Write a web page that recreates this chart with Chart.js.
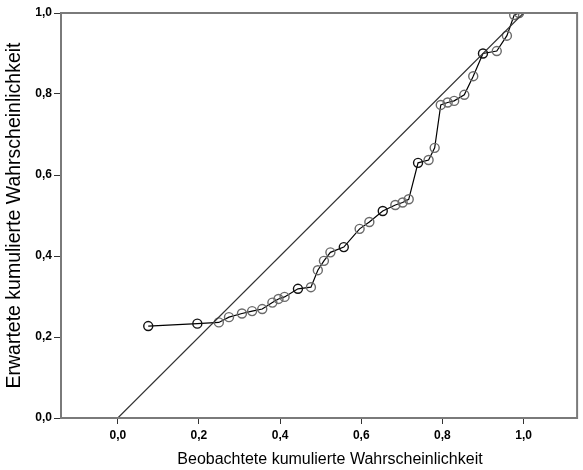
<!DOCTYPE html>
<html>
<head>
<meta charset="utf-8">
<script src="https://cdn.jsdelivr.net/npm/chart.js@4"></script>
<style>
  html, body { margin: 0; padding: 0; background: #fff; }
  #wrap { width: 583px; height: 470px; }
</style>
</head>
<body>
<div id="wrap"><canvas id="pp"></canvas></div>
<script>
// observed vs expected cumulative probabilities
const observed = [0.075, 0.196, 0.249, 0.274, 0.306, 0.331, 0.356, 0.381, 0.396, 0.411,
  0.444, 0.476, 0.493, 0.508, 0.524, 0.557, 0.596, 0.620, 0.653, 0.684,
  0.702, 0.717, 0.740, 0.766, 0.781, 0.796, 0.813, 0.829, 0.854, 0.876,
  0.900, 0.934, 0.959, 0.977, 0.989];
const expected = [0.227, 0.233, 0.236, 0.249, 0.258, 0.264, 0.269, 0.285, 0.294, 0.299,
  0.319, 0.323, 0.365, 0.388, 0.409, 0.422, 0.467, 0.484, 0.511, 0.526,
  0.532, 0.540, 0.630, 0.637, 0.667, 0.773, 0.779, 0.783, 0.798, 0.844,
  0.900, 0.906, 0.944, 0.995, 1.000];
// points drawn twice over (ties), shown darker
const tied = [0, 1, 10, 15, 18, 22, 30];

const xTicks = [0, 0.2, 0.4, 0.6, 0.8, 1.0];
const yTicks = [0, 0.2, 0.4, 0.6, 0.8, 1.0];

const xTitle = "Beobachtete kumulierte Wahrscheinlichkeit";
const yTitle = "Erwartete kumulierte Wahrscheinlichkeit";

const points = observed.map((x, i) => ({ x: x, y: expected[i] }));
const markerColors = observed.map((x, i) => tied.includes(i) ? "#111" : "#6a6a6a");

const fmt = (v) => v.toFixed(1).replace(".", ",");
const fontFamily = "Arial, 'Liberation Sans'";
const tickFont = { family: fontFamily, size: 12, weight: "bold" };
const yTitleFont = { family: fontFamily, size: 19.5, weight: "normal" };

// grey frame round the plot area, x title drawn a bit right of centre
const framePlugin = {
  id: "frame",
  afterDatasetsDraw(chart) {
    const a = chart.chartArea;
    const ctx = chart.ctx;
    ctx.save();
    ctx.strokeStyle = "#7a7a7a";
    ctx.lineWidth = 2;
    ctx.strokeRect(a.left, a.top, a.right - a.left, a.bottom - a.top);
    ctx.restore();
  },
  afterDraw(chart) {
    const ctx = chart.ctx;
    ctx.save();
    ctx.font = "16px " + fontFamily;
    ctx.fillStyle = "#000";
    ctx.textAlign = "center";
    ctx.textBaseline = "middle";
    ctx.fillText(xTitle, 330, 460);
    ctx.restore();
  }
};

const config = {
  type: "scatter",
  data: {
    datasets: [
      {
        label: "diagonal",
        type: "line",
        data: [{ x: 0, y: 0 }, { x: 1, y: 1 }],
        borderColor: "#333",
        borderWidth: 1.2,
        pointRadius: 0,
        fill: false
      },
      {
        label: "pp",
        type: "line",
        data: points,
        borderColor: "#000",
        borderWidth: 1.2,
        pointRadius: 4.5,
        pointBorderWidth: 1.4,
        pointBackgroundColor: "rgba(0,0,0,0)",
        pointBorderColor: markerColors,
        tension: 0,
        fill: false
      }
    ]
  },
  options: {
    responsive: true,
    maintainAspectRatio: false,
    animation: false,
    layout: { padding: { top: 13, right: 5, left: 0, bottom: 0 } },
    plugins: { legend: { display: false }, tooltip: { enabled: false } },
    scales: {
      x: {
        type: "linear",
        min: -0.14,
        max: 1.132,
        afterBuildTicks: (s) => { s.ticks = xTicks.map((v) => ({ value: v })); },
        afterFit: (s) => { s.height = 52; },
        grid: { drawOnChartArea: false, drawTicks: true, tickLength: 6, color: "#333" },
        border: { display: false },
        ticks: { color: "#000", font: tickFont, padding: 4, callback: (v) => fmt(v), maxRotation: 0 }
      },
      y: {
        type: "linear",
        min: 0,
        max: 1,
        afterBuildTicks: (s) => { s.ticks = yTicks.map((v) => ({ value: v })); },
        afterFit: (s) => { s.width = 61; },
        grid: { drawOnChartArea: false, drawTicks: true, tickLength: 7, color: "#333" },
        border: { display: false },
        ticks: { color: "#000", font: tickFont, padding: 2, callback: (v) => fmt(v) },
        title: { display: true, text: yTitle, color: "#000", font: yTitleFont, padding: { top: 3, bottom: 0 } }
      }
    }
  },
  plugins: [framePlugin]
};

new Chart(document.getElementById("pp"), config);
</script>
</body>
</html>
